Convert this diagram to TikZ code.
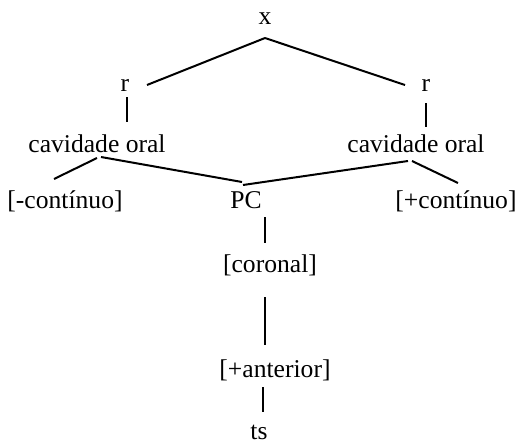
\documentclass[tikz,border=0pt]{standalone}
\usepackage{fontspec}
\setmainfont{Liberation Serif}
\usetikzlibrary{calc}
\begin{document}
\begin{tikzpicture}[x=1pt,y=-1pt,
  lbl/.style={anchor=base,inner sep=0pt,font=\fontsize{25.6}{30}\selectfont},
  edge/.style={line width=2pt}]
\useasboundingbox (0,0) rectangle (519,444);
% feature tree nodes (placed by baseline)
\node[lbl] (x)    at (265,25)  {x};
\node[lbl] (rL)   at (125,92)  {r};
\node[lbl] (rR)   at (426,92)  {r};
\node[lbl] (cavL) at (97,152)  {cavidade oral};
\node[lbl] (cavR) at (416,152) {cavidade oral};
\node[lbl] (minus) at (65,208) {[-contínuo]};
\node[lbl] (pc)   at (246,208) {PC};
\node[lbl] (plus) at (456,208) {[+contínuo]};
\node[lbl] (cor)  at (270,272) {[coronal]};
\node[lbl] (ant)  at (275,377) {[+anterior]};
\node[lbl] (ts)   at (259,439) {ts};
% branches
\draw[edge] ($(x.base)+(0,13)$) -- ($(rL.base)+(22,-7)$);
\draw[edge] ($(x.base)+(0,13)$) -- ($(rR.base)+(-21,-7)$);
\draw[edge] ($(rL.base)+(2,5)$) -- ($(cavL.base)+(30,-30)$);
\draw[edge] ($(rR.base)+(0,11)$) -- ($(cavR.base)+(10,-25)$);
\draw[edge] ($(cavL.base)+(4,5)$) -- ($(pc.base)+(-4,-26)$);
\draw[edge] ($(cavL.base)+(0,6)$) -- ($(minus.base)+(-11,-29)$);
\draw[edge] ($(cavR.base)+(-8,9)$) -- ($(pc.base)+(-3,-23)$);
\draw[edge] ($(cavR.base)+(-4,9)$) -- ($(plus.base)+(2,-25)$);
\draw[edge] ($(pc.base)+(19,9)$) -- ($(cor.base)+(-5,-29)$);
\draw[edge] ($(cor.base)+(-5,25)$) -- ($(ant.base)+(-10,-32)$);
\draw[edge] ($(ant.base)+(-12,10)$) -- ($(ts.base)+(4,-27)$);
\end{tikzpicture}
\end{document}
